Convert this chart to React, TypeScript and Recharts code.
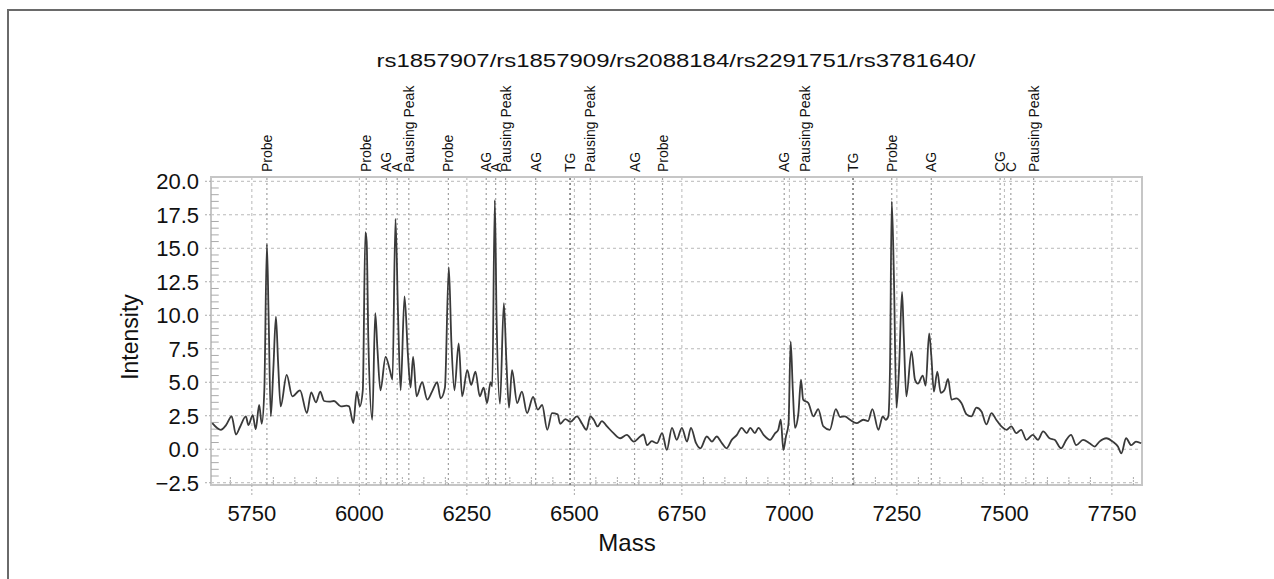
import React from "react"
import {
  LineChart,
  Line,
  XAxis,
  YAxis,
  CartesianGrid,
  ReferenceLine,
  ReferenceArea,
} from "recharts"

// spectrum (mass, intensity)
const MASS = [
  5658, 5678, 5690, 5703, 5713, 5723, 5736, 5742, 5752, 5759, 5767, 5773, 5779, 5785, 5789, 5794,
  5800, 5806, 5811, 5817, 5831, 5844, 5862, 5878, 5888, 5899, 5909, 5918, 5930, 5941, 5957, 5970,
  5976, 5986, 5994, 6001, 6008, 6014, 6017, 6021, 6030, 6037, 6042, 6049, 6061, 6071, 6077, 6084,
  6090, 6096, 6105, 6113, 6119, 6125, 6133, 6146, 6158, 6169, 6181, 6189, 6199, 6208, 6214, 6221,
  6231, 6239, 6251, 6260, 6270, 6280, 6289, 6297, 6305, 6309, 6315, 6319, 6327, 6336, 6342, 6348,
  6355, 6367, 6378, 6390, 6404, 6415, 6425, 6437, 6448, 6461, 6467, 6479, 6491, 6506, 6518, 6528,
  6537, 6545, 6554, 6564, 6576, 6591, 6607, 6622, 6638, 6653, 6661, 6669, 6680, 6692, 6704, 6715,
  6727, 6738, 6750, 6762, 6771, 6783, 6793, 6808, 6820, 6831, 6843, 6854, 6866, 6878, 6889, 6901,
  6909, 6920, 6928, 6940, 6955, 6967, 6974, 6980, 6986, 6992, 6998, 7003, 7008, 7013, 7021, 7027,
  7032, 7044, 7056, 7067, 7079, 7094, 7108, 7118, 7129, 7141, 7156, 7172, 7183, 7193, 7207, 7217,
  7224, 7230, 7234, 7238, 7243, 7249, 7255, 7262, 7266, 7272, 7284, 7292, 7299, 7310, 7317, 7325,
  7330, 7336, 7344, 7352, 7361, 7369, 7377, 7388, 7400, 7412, 7423, 7435, 7447, 7458, 7470, 7481,
  7493, 7505, 7516, 7528, 7539, 7551, 7566, 7578, 7590, 7605, 7617, 7632, 7644, 7655, 7667, 7683,
  7698, 7710, 7721, 7737, 7752, 7764, 7772, 7783, 7795, 7806, 7818,
]
const INTENSITY = [
  1.95, 1.45, 1.8, 2.45, 1.1, 1.7, 2.45, 1.8, 2.55, 1.5, 3.3, 1.9, 4.4, 15.3, 9.9, 2.45,
  6.0, 9.9, 6.5, 3.2, 5.55, 3.95, 4.4, 2.7, 4.25, 3.5, 4.3, 3.6, 3.55, 3.6, 3.2, 3.25,
  3.2, 1.95, 4.3, 3.2, 4.4, 16.2, 15.5, 8.0, 2.2, 10.15, 7.5, 4.4, 6.9, 5.9, 5.2, 17.2,
  10.0, 4.4, 11.4, 7.0, 4.6, 6.9, 3.95, 5.0, 3.7, 4.3, 5.0, 3.8, 4.6, 13.6, 8.0, 4.4,
  7.9, 3.95, 5.9, 4.8, 5.8, 3.95, 4.6, 3.45, 5.0, 4.7, 18.6, 10.0, 3.4, 10.9, 6.5, 3.1,
  5.9, 3.45, 4.3, 2.7, 3.9, 2.95, 3.3, 1.45, 2.7, 2.6, 1.9, 2.25, 2.05, 2.45, 1.9, 1.45,
  2.45, 2.2, 1.7, 2.1, 1.7, 1.2, 0.82, 1.07, 0.57, 0.95, 1.1, 0.3, 0.6, 0.45, 1.2, -0.05,
  1.6, 0.7, 1.6, 0.57, 1.6, 0.45, 0.07, 0.95, 0.57, 0.95, 0.45, 0.07, 0.7, 1.07, 1.6, 1.2,
  1.6, 1.2, 1.6, 1.07, 0.7, 1.2, 1.45, 2.2, -0.05, 0.95, 1.9, 8.05, 4.4, 1.6, 2.7, 5.2,
  3.7, 3.45, 2.45, 3.0, 1.7, 1.45, 3.0, 2.4, 2.45, 2.2, 1.95, 2.2, 2.1, 3.0, 1.45, 2.45,
  2.2, 2.45, 6.0, 18.5, 13.0, 3.1, 6.0, 11.75, 8.5, 3.95, 7.3, 5.2, 4.9, 5.5, 4.75, 8.65,
  7.0, 4.3, 5.8, 4.2, 4.45, 5.25, 3.7, 3.8, 3.45, 2.6, 2.45, 3.1, 2.8, 1.85, 2.7, 2.2,
  1.7, 1.45, 1.7, 1.2, 1.45, 0.7, 1.07, 0.7, 1.33, 0.82, 0.7, 0.07, 0.7, 1.07, 0.3, 0.7,
  0.45, 0.2, 0.57, 0.82, 0.57, 0.2, -0.3, 0.82, 0.3, 0.57, 0.45,
]

// peak annotations along the top
const ANN_MASS = [
  5785, 6016, 6063, 6088, 6115, 6207, 6295, 6317, 6340, 6410, 6490, 6537, 6640, 6705,
  6988, 7037, 7148, 7238, 7330, 7490, 7515, 7568,
]
const ANN_LABEL = [
  "Probe", "Probe", "AG", "A", "Pausing Peak", "Probe", "AG", "A", "Pausing Peak", "AG", "TG",
  "Pausing Peak", "AG", "Probe", "AG", "Pausing Peak", "TG", "Probe", "AG", "CG", "C", "Pausing Peak",
]

const X_TICKS = [5750, 6000, 6250, 6500, 6750, 7000, 7250, 7500, 7750]
const Y_TICKS = [-2.5, 0, 2.5, 5, 7.5, 10, 12.5, 15, 17.5, 20]
const X_DOMAIN: [number, number] = [5655, 7820]
const Y_DOMAIN: [number, number] = [-2.67, 20.32]

const TITLE = "rs1857907/rs1857909/rs2088184/rs2291751/rs3781640/"

const FONT = "'Liberation Sans', Arial, Helvetica, sans-serif"

const data = MASS.map((m, i) => ({ mass: m, intensity: INTENSITY[i] }))

// minor tick marks inside the frame
const xMinor: number[] = []
for (let m = 5700; m <= 7800; m += 50) if (m % 250 !== 0) xMinor.push(m)
const yMinor: number[] = []
for (let v = -2; v <= 20; v += 0.5) if (Math.abs(v % 2.5) > 0.01) yMinor.push(v)

function AnnLabel(props: any) {
  const { viewBox, text } = props
  if (!viewBox) return null
  const x = viewBox.x
  const y = viewBox.y - 5
  return (
    <text
      x={x}
      y={y}
      dy="0.36em"
      transform={`rotate(-90 ${x} ${y})`}
      textAnchor="start"
      fontSize={14}
      fontFamily={FONT}
      fill="#111"
    >
      {text}
    </text>
  )
}

function YLabel(props: any) {
  const { viewBox } = props
  if (!viewBox) return null
  const cx = viewBox.x + 9
  const cy = viewBox.y + viewBox.height / 2 + 6
  return (
    <text
      x={cx}
      y={cy}
      dy="0.36em"
      transform={`rotate(-90 ${cx} ${cy})`}
      textAnchor="middle"
      fontSize={23}
      fontFamily={FONT}
      fill="#111"
    >
      Intensity
    </text>
  )
}

function XLabel(props: any) {
  const { viewBox } = props
  if (!viewBox) return null
  return (
    <text
      x={viewBox.x + 416}
      y={viewBox.y + 57}
      dy="0.36em"
      textAnchor="middle"
      fontSize={24}
      fontFamily={FONT}
      fill="#111"
    >
      Mass
    </text>
  )
}

const fmtY = (v: number) => (v < 0 ? "\u2212" + Math.abs(v).toFixed(1) : v.toFixed(1))

export default function App() {
  return (
    <div style={{ position: "fixed", left: 0, top: 0, width: 1274, height: 579, background: "#fff" }}>
      <div
        style={{
          position: "absolute",
          left: 7,
          top: 9,
          width: 1267,
          height: 570,
          boxSizing: "border-box",
          borderLeft: "2px solid #6a6a6a",
          borderTop: "2px solid #6a6a6a",
        }}
      />
      <svg style={{ position: "absolute", left: 0, top: 0 }} width={1274} height={90}>
        <text
          x={676}
          y={67}
          textAnchor="middle"
          fontSize={19}
          fontFamily={FONT}
          fill="#111"
          textLength={599}
          lengthAdjust="spacingAndGlyphs"
        >
          {TITLE}
        </text>
      </svg>
      <div style={{ position: "absolute", left: 0, top: 0 }}>
        <LineChart
          width={1274}
          height={579}
          data={data}
          margin={{ top: 177, right: 132, left: 121, bottom: 14 }}
          style={{ fontFamily: FONT }}
        >
          <CartesianGrid stroke="#b8b8b8" strokeDasharray="3 3" />
          <XAxis
            type="number"
            dataKey="mass"
            domain={X_DOMAIN}
            ticks={X_TICKS}
            allowDataOverflow
            height={80}
            axisLine={false}
            tickSize={10}
            tickMargin={10}
            tickLine={{ stroke: "#aaa", strokeDasharray: "2 2" }}
            tick={{ fill: "#111", fontSize: 22 }}
            label={<XLabel />}
          />
          <YAxis
            type="number"
            domain={Y_DOMAIN}
            ticks={Y_TICKS}
            allowDataOverflow
            width={90}
            axisLine={false}
            tickSize={6}
            tickMargin={6}
            tickLine={{ stroke: "#aaa", strokeDasharray: "2 2" }}
            tick={{ fill: "#111", fontSize: 22 }}
            tickFormatter={fmtY}
            label={<YLabel />}
          />
          {xMinor.map((m) => (
            <ReferenceLine
              key={"xm" + m}
              segment={[
                { x: m, y: Y_DOMAIN[0] },
                { x: m, y: Y_DOMAIN[0] + 0.6 },
              ]}
              stroke="#aaa"
              strokeDasharray="2 1"
            />
          ))}
          {yMinor.map((v) => (
            <ReferenceLine
              key={"ym" + v}
              segment={[
                { x: X_DOMAIN[0], y: v },
                { x: X_DOMAIN[0] + 18, y: v },
              ]}
              stroke="#aaa"
            />
          ))}
          {ANN_MASS.map((m, i) => (
            <ReferenceLine
              key={"ann" + i}
              x={m}
              stroke={ANN_LABEL[i] === "TG" ? "#777" : "#a0a0a0"}
              strokeWidth={ANN_LABEL[i] === "TG" ? 1.6 : 1.2}
              strokeDasharray="2 3"
              label={<AnnLabel text={ANN_LABEL[i]} />}
            />
          ))}
          <ReferenceArea
            x1={X_DOMAIN[0]}
            x2={X_DOMAIN[1]}
            y1={Y_DOMAIN[0]}
            y2={Y_DOMAIN[1]}
            fill="none"
            stroke="#c6c6c6"
            strokeWidth={2}
            ifOverflow="visible"
          />
          <Line
            type="monotone"
            dataKey="intensity"
            stroke="#3a3a3a"
            strokeWidth={1.8}
            dot={false}
            isAnimationActive={false}
          />
        </LineChart>
      </div>
    </div>
  )
}
